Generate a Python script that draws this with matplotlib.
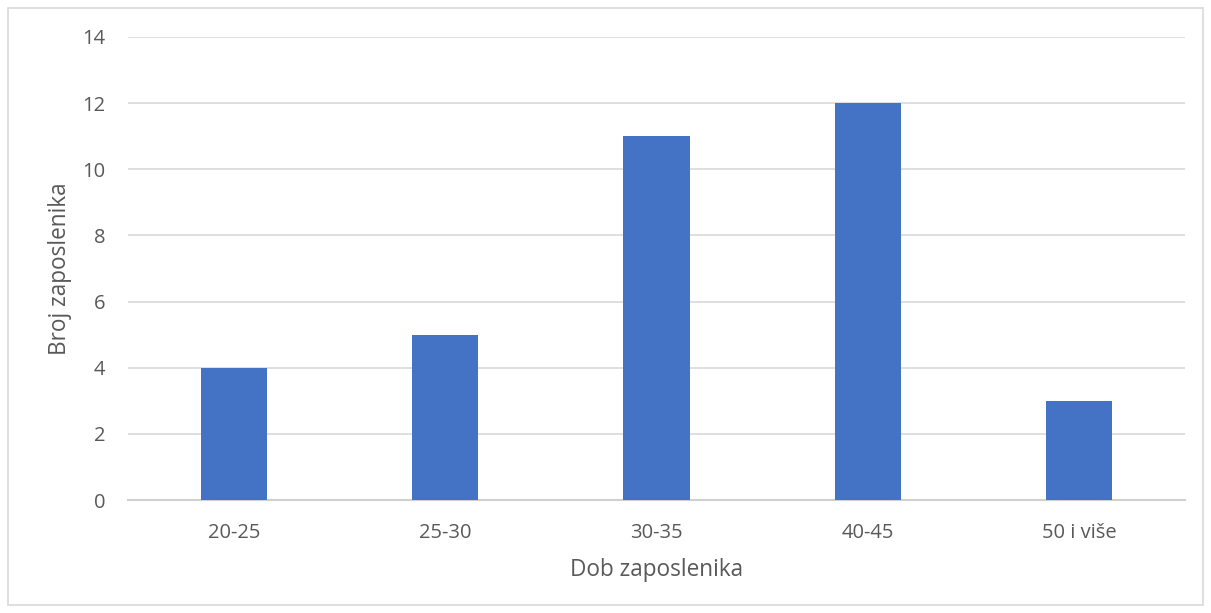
import matplotlib
matplotlib.use("Agg")
import matplotlib.pyplot as plt
from matplotlib.patches import Rectangle

categories = ["20-25", "25-30", "30-35", "40-45", "50 i više"]
values = [4, 5, 11, 12, 3]
yticks = [0, 2, 4, 6, 8, 10, 12, 14]

plt.rcParams['font.family'] = ['Open Sans', 'DejaVu Sans']

fig = plt.figure(figsize=(12.11, 6.13), dpi=100)
ax = fig.add_axes([128/1211, 1 - 500/613, (1185-128)/1211, (500-37)/613])

x = list(range(len(categories)))
ax.bar(x, values, width=0.313, color="#4472C4", zorder=3)
ax.set_xlim(-0.5, len(categories) - 0.5)
ax.set_ylim(0, 14)
ax.set_yticks(yticks)
ax.set_xticks(x)
ax.set_xticklabels(categories)
ax.grid(axis='y', color="#d9d9d9", linewidth=1.2, zorder=0)
for s in ["top", "right", "left"]:
    ax.spines[s].set_visible(False)
ax.spines["bottom"].set_color("#d0d0d0")
ax.spines["bottom"].set_linewidth(1.5)
ax.tick_params(axis='both', length=0, labelsize=14.5, labelcolor="#595959")
ax.tick_params(axis='y', pad=16.5)
ax.tick_params(axis='x', pad=16.5)
ax.set_xlabel("Dob zaposlenika", fontsize=16.3, color="#595959")
ax.set_ylabel("Broj zaposlenika", fontsize=16.3, color="#595959")
ax.xaxis.set_label_coords(0.5, -0.125)
ax.yaxis.set_label_coords(-0.053, 0.5)

fig.patches.append(Rectangle((8/1211, 1 - 605/613), (1203-8)/1211, (605-8)/613,
                             transform=fig.transFigure, fill=False,
                             edgecolor="#d9d9d9", linewidth=1.2))
fig.savefig("out.png", dpi=100)
